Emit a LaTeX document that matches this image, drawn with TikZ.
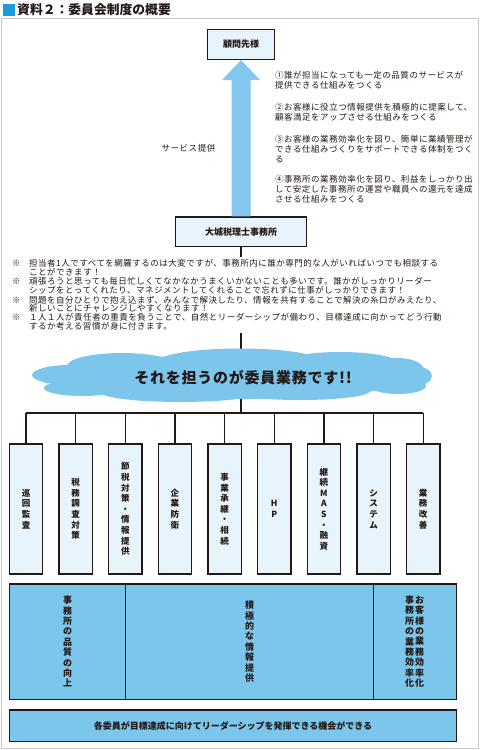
\documentclass[tikz,border=0pt]{standalone}
\usepackage{fontspec}
\setmainfont{Noto Sans CJK JP}
\usetikzlibrary{arrows.meta}
\definecolor{ink}{HTML}{231815}
\definecolor{lightfill}{HTML}{E8F4FC}
\definecolor{skyblue}{HTML}{7CC6EC}
\definecolor{arrowblue}{HTML}{82C8EE}
\definecolor{titleblue}{HTML}{1E9AE0}
\definecolor{framegray}{HTML}{C8C8C8}
\begin{document}
\begin{tikzpicture}[x=1pt,y=-1pt,
  line/.style={draw=ink,line width=1.2pt},
  topbox/.style={draw=ink,line width=1.3pt,fill=lightfill,inner sep=0pt,font=\bfseries\fontsize{9}{10}\selectfont,text=ink},
  lbox/.style={draw=ink,line width=1.3pt,fill=lightfill,inner sep=0pt,minimum width=33.3pt,minimum height=130pt,font=\bfseries\fontsize{8.5}{10.6}\selectfont,align=center,text=ink},
  bbox/.style={draw=ink,line width=1.3pt,fill=skyblue,inner sep=0pt,minimum height=115.3pt,font=\bfseries\fontsize{9}{10.4}\selectfont,align=center,text=ink},
  vcol/.style={inner sep=0pt,font=\bfseries\fontsize{9}{10.4}\selectfont,align=center,text=ink},
  note/.style={anchor=west,inner sep=0pt,font=\fontsize{8.5}{10}\selectfont\addfontfeatures{LetterSpace=6},text=ink},
]
\useasboundingbox (0,0) rectangle (482,750);
% title
\fill[titleblue] (3,4) rectangle (15,16);
\node[anchor=west,inner sep=0pt,font=\bfseries\fontsize{12.8}{14}\selectfont,text=ink] (title) at (17,10) {資料２：委員会制度の概要};
% frame
\draw[framegray,line width=1pt] (1.5,18.5) rectangle (478.5,748.5);

% top boxes
\node[topbox,minimum width=66.6pt,minimum height=30pt] (client) at (241,44.3) {顧問先様};
\node[topbox,minimum width=131pt,minimum height=29.7pt] (office) at (241.2,231.85) {大城税理士事務所};
\draw[arrowblue,line width=19pt,-{Triangle[width=38.3pt,length=20.2pt,line width=0pt]}] (office.north) -- (client.south);
\node[note,anchor=center] (svc) at (188.5,148) {サービス提供};

% right texts
\node[note] (s1) at (275,75) {①誰が担当になっても一定の品質のサービスが};
\node[note] (s2) at (275,85) {提供できる仕組みをつくる};
\node[note] (s3) at (275,107) {②お客様に役立つ情報提供を積極的に提案して、};
\node[note] (s4) at (275,117) {顧客満足をアップさせる仕組みをつくる};
\node[note] (s5) at (275,139) {③お客様の業務効率化を図り、簡単に業績管理が};
\node[note] (s6) at (275,149) {できる仕組みづくりをサポートできる体制をつく};
\node[note] (s7) at (275,159) {る};
\node[note] (s8) at (275,179.3) {④事務所の業務効率化を図り、利益をしっかり出};
\node[note] (s9) at (275,189.3) {して安定した事務所の運営や職員への還元を達成};
\node[note] (s10) at (275,199.5) {させる仕組みをつくる};

% connectors to cloud and bus
\coordinate (stemA) at (241,257);
\coordinate (stemB) at (241,333);
\coordinate (bus) at (241,413);
\draw[line] (office.south -| stemA) -- (stemA);
\draw[line] (stemB) -- (bus);

% notes
\node[note] (k1) at (12,263.3) {※};
\node[note] (n1) at (29,263.3) {担当者1人ですべてを網羅するのは大変ですが、事務所内に誰か専門的な人がいればいつでも相談する};
\node[note] (n2) at (29,271.9) {ことができます！};
\node[note] (k2) at (12,281.7) {※};
\node[note] (n3) at (29,281.7) {頑張ろうと思っても毎日忙しくてなかなかうまくいかないことも多いです。誰かがしっかりリーダー};
\node[note] (n4) at (29,290.3) {シップをとってくれたり、マネジメントしてくれることで忘れずに仕事がしっかりできます！};
\node[note] (k3) at (12,300) {※};
\node[note] (n5) at (29,300) {問題を自分ひとりで抱え込まず、みんなで解決したり、情報を共有することで解決の糸口がみえたり、};
\node[note] (n6) at (29,308.6) {新しいことにチャレンジしやすくなります！};
\node[note] (k4) at (12,317.6) {※};
\node[note] (n7) at (29,317.6) {１人１人が責任者の重責を負うことで、自然とリーダーシップが備わり、目標達成に向かってどう行動};
\node[note] (n8) at (29,326.7) {するか考える習慣が身に付きます。};

% cloud
\begin{scope}[fill=skyblue]
\fill (232,377) ellipse [x radius=185pt, y radius=22pt];
\fill (70,375) ellipse [x radius=38pt, y radius=10pt];
\fill (122,366) ellipse [x radius=55pt, y radius=13pt];
\fill (240,362) ellipse [x radius=82pt, y radius=13.5pt];
\fill (340,364) ellipse [x radius=60pt, y radius=12pt];
\fill (398,370) ellipse [x radius=26pt, y radius=12pt];
\fill (82,388) ellipse [x radius=38pt, y radius=8pt];
\fill (180,392) ellipse [x radius=80pt, y radius=10pt];
\fill (300,391) ellipse [x radius=70pt, y radius=9pt];
\fill (398,386) ellipse [x radius=28pt, y radius=8pt];
\fill (414,376) ellipse [x radius=18pt, y radius=10pt];
\end{scope}
\node[inner sep=0pt,font=\bfseries\fontsize{15}{18}\selectfont\addfontfeatures{LetterSpace=5},text=ink] (cloudtext) at (243,378) {それを担うのが委員業務です!!};

% boxes
\node[lbox] (b1) at (26.0,509) {巡\\回\\監\\査};
\node[lbox] (b2) at (75.65,509) {税\\務\\調\\査\\対\\策};
\node[lbox] (b3) at (125.3,509) {節\\税\\対\\策\\・\\情\\報\\提\\供};
\node[lbox] (b4) at (174.95,509) {企\\業\\防\\衛};
\node[lbox] (b5) at (224.6,509) {事\\業\\承\\継\\・\\相\\続};
\node[lbox] (b6) at (274.25,509) {H\\P};
\node[lbox] (b7) at (323.9,509) {継\\続\\M\\A\\S\\・\\融\\資};
\node[lbox] (b8) at (373.55,509) {シ\\ス\\テ\\ム};
\node[lbox] (b9) at (423.2,509) {業\\務\\改\\善};
\draw[line] (b1.north |- bus) -- (b9.north |- bus);
\foreach \i in {1,...,9} \draw[line] (b\i.north |- bus) -- (b\i.north);

% bottom row
\node[bbox,minimum width=116.4pt] (q1) at (67.5,641.65) {事\\務\\所\\の\\品\\質\\の\\向\\上};
\node[bbox,minimum width=247.6pt] (q2) at (249.5,641.65) {積\\極\\的\\な\\情\\報\\提\\供};
\node[bbox,minimum width=83.4pt] (q3) at (415,641.65) {};
\node[vcol] (r1) at (419.5,641.65) {お\\客\\様\\の\\業\\務\\効\\率\\化};
\node[vcol] (r2) at (409.5,641.65) {事\\務\\所\\の\\業\\務\\効\\率\\化};

% final box
\node[draw=ink,line width=1.3pt,fill=skyblue,inner sep=0pt,minimum width=447.4pt,minimum height=31.7pt,font=\bfseries\fontsize{9}{10}\selectfont,text=ink] (goal) at (233,725.85) {各委員が目標達成に向けてリーダーシップを発揮できる機会ができる};
\end{tikzpicture}
\end{document}
